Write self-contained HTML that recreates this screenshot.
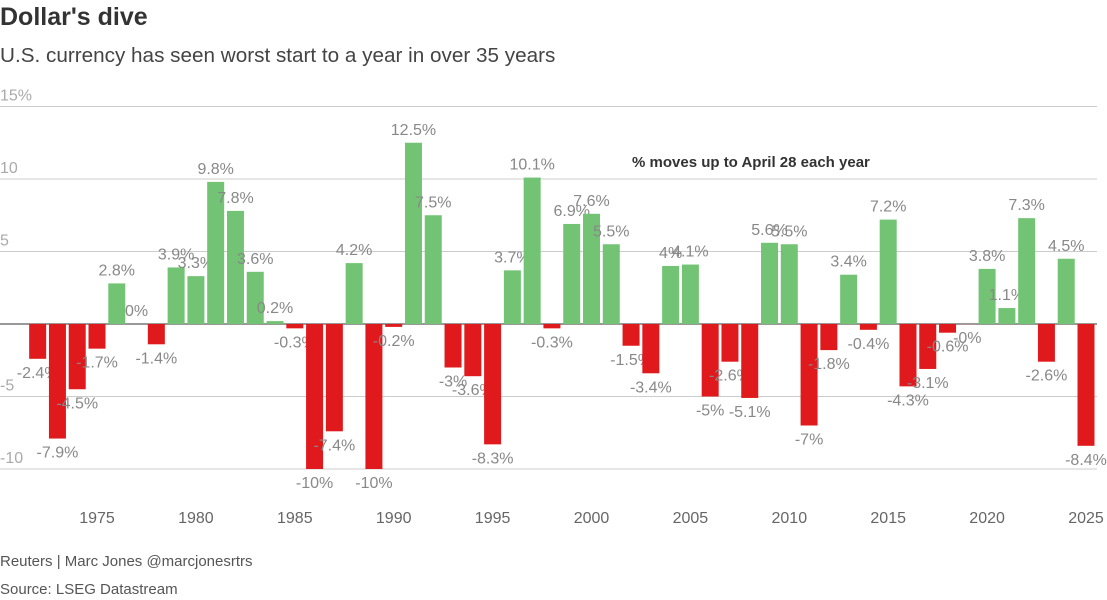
<!DOCTYPE html>
<html><head><meta charset="utf-8"><style>
body{margin:0;background:#fff;font-family:"Liberation Sans",sans-serif;}
#wrap{position:relative;width:1107px;height:600px;overflow:hidden;}
.t{position:absolute;left:0;top:3px;font-size:25px;font-weight:bold;color:#333;}
.s{position:absolute;left:0;top:44px;font-size:20.7px;color:#444;}
.f{position:absolute;left:0;font-size:15px;color:#555;}
</style></head><body>
<div id="wrap">
<div class="t">Dollar's dive</div>
<div class="s">U.S. currency has seen worst start to a year in over 35 years</div>
<svg id="c" width="1107" height="600" style="position:absolute;left:0;top:0"></svg>
<div class="f" style="top:553px">Reuters | Marc Jones @marcjonesrtrs</div>
<div class="f" style="top:581px">Source: LSEG Datastream</div>
</div>
<script>
const years=[1972,1973,1974,1975,1976,1977,1978,1979,1980,1981,1982,1983,1984,1985,1986,1987,1988,1989,1990,1991,1992,1993,1994,1995,1996,1997,1998,1999,2000,2001,2002,2003,2004,2005,2006,2007,2008,2009,2010,2011,2012,2013,2014,2015,2016,2017,2018,2019,2020,2021,2022,2023,2024,2025];
const values=[-2.4,-7.9,-4.5,-1.7,2.8,0,-1.4,3.9,3.3,9.8,7.8,3.6,0.2,-0.3,-10,-7.4,4.2,-10,-0.2,12.5,7.5,-3,-3.6,-8.3,3.7,10.1,-0.3,6.9,7.6,5.5,-1.5,-3.4,4,4.1,-5,-2.6,-5.1,5.6,5.5,-7,-1.8,3.4,-0.4,7.2,-4.3,-3.1,-0.6,-0.01,3.8,1.1,7.3,-2.6,4.5,-8.4];
const labels=["-2.4%","-7.9%","-4.5%","-1.7%","2.8%","0%","-1.4%","3.9%","3.3%","9.8%","7.8%","3.6%","0.2%","-0.3%","-10%","-7.4%","4.2%","-10%","-0.2%","12.5%","7.5%","-3%","-3.6%","-8.3%","3.7%","10.1%","-0.3%","6.9%","7.6%","5.5%","-1.5%","-3.4%","4%","4.1%","-5%","-2.6%","-5.1%","5.6%","5.5%","-7%","-1.8%","3.4%","-0.4%","7.2%","-4.3%","-3.1%","-0.6%","-0%","3.8%","1.1%","7.3%","-2.6%","4.5%","-8.4%"];
const yTicks=[15,10,5,0,-5,-10];
const yTickLabels=["15%","10","5","","-5","-10"];
const xTicks=[1975,1980,1985,1990,1995,2000,2005,2010,2015,2020,2025];
const NS="http://www.w3.org/2000/svg";
const svg=document.getElementById('c');
const y=v=>324-v*14.5;
const x=yr=>97+(yr-1975)*19.78;
function mk(tag,attrs,txt){const e=document.createElementNS(NS,tag);for(const k in attrs)e.setAttribute(k,attrs[k]);if(txt!==undefined)e.textContent=txt;svg.appendChild(e);return e;}
yTicks.forEach((v,i)=>{
 const l=mk('line',{x1:0,x2:1097,y1:y(v),y2:y(v),stroke:v===0?'#333':'#ccc','stroke-width':1});
 
 
 if(yTickLabels[i]){const t=mk('text',{x:0,y:y(v)-6,'font-size':16,fill:'#aaa'},yTickLabels[i]);
 
 }
});
xTicks.forEach(yr=>{
 const t=mk('text',{x:x(yr),y:523,'font-size':16,fill:'#666','text-anchor':'middle'},yr);
 
 
});
years.forEach((yr,i)=>{
 const v=values[i];
 const r=mk('rect',{x:x(yr)-8.5,width:17,y:Math.min(y(v),y(0)),height:Math.abs(y(v)-y(0)),fill:v>=0?'#72c474':'#e0191c'});
 
 
 const ly=v>=0?y(v)-8:y(v)+19;
 const t=mk('text',{x:x(yr),y:ly,'font-size':16,fill:'#888','text-anchor':'middle'},labels[i]);
 
 
});
const a=mk('text',{x:632,y:167,'font-size':15,'font-weight':'bold',fill:'#333'},'% moves up to April 28 each year');


</script>
</body></html>
